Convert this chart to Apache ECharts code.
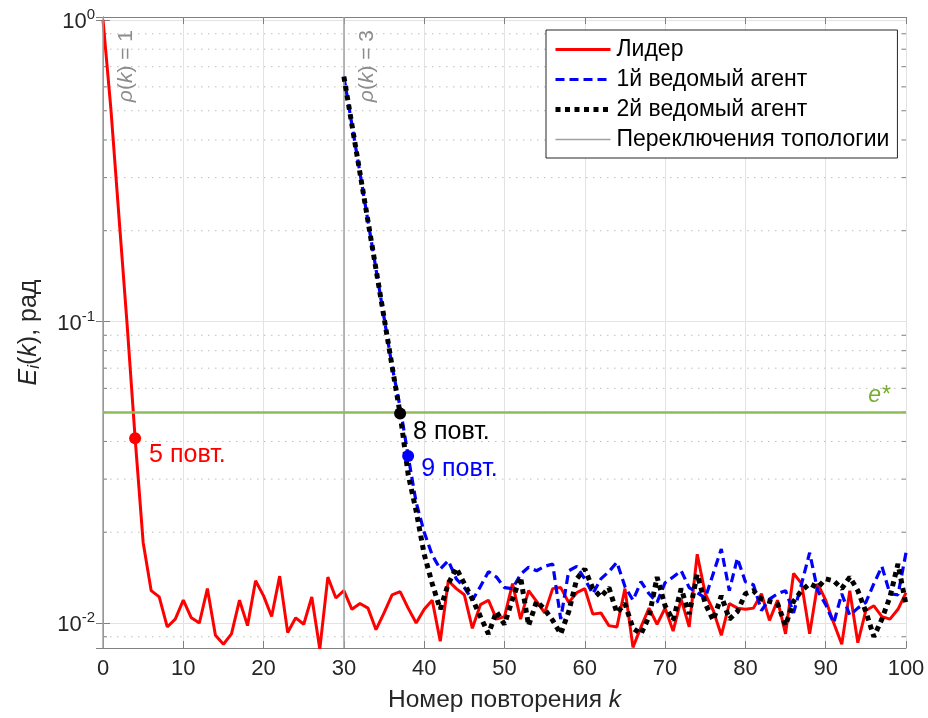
<!DOCTYPE html>
<html><head><meta charset="utf-8">
<script src="https://cdn.jsdelivr.net/npm/echarts@6/dist/echarts.min.js"></script>
<style>html,body{margin:0;padding:0;background:#fff}#c{width:928px;height:718px}</style>
</head><body><div id="c"></div>
<script>
// Leader error, k = 0..100
const leader = [1.0,0.50,0.22,0.098,0.041,0.0185,0.0128,0.0122,0.0097,0.0103,
0.0119,0.0104,0.0100,0.0130,0.0091,0.0085,0.0092,0.0119,0.0098,0.0138,
0.0123,0.0105,0.0143,0.0093,0.0104,0.0099,0.0122,0.0082,0.0142,0.0121,
0.0128,0.0111,0.0116,0.0112,0.0095,0.0108,0.0124,0.0127,0.0112,0.0100,
0.0111,0.0119,0.0087,0.0138,0.0130,0.0124,0.0096,0.0115,0.0119,0.0103,
0.0105,0.0135,0.0103,0.0128,0.0118,0.0108,0.0130,0.0131,0.0117,0.0126,
0.0130,0.0107,0.0108,0.0098,0.0097,0.0130,0.0083,0.0097,0.0112,0.0099,
0.0112,0.0094,0.0120,0.0097,0.0169,0.0125,0.0110,0.0091,0.0116,0.0112,
0.0111,0.0112,0.0125,0.0102,0.0119,0.0092,0.0146,0.0135,0.0092,0.0135,
0.0119,0.0100,0.0085,0.0128,0.0086,0.0110,0.0114,0.0105,0.0103,0.0111,
0.0126];
// Followers start at k = 30
const followerStart = 30;
const follower1 = [0.649,0.449,0.311,0.215,0.149,0.103,0.071,0.052,0.0358,0.0251,
0.0200,0.0168,0.0151,0.0161,0.0140,0.0131,0.0119,0.0132,0.0148,0.0142,
0.0131,0.0130,0.0145,0.0153,0.0149,0.0154,0.0157,0.0103,0.0149,0.0154,
0.0140,0.0125,0.0140,0.0148,0.0159,0.0132,0.0119,0.0137,0.0125,0.0117,
0.0136,0.0142,0.0149,0.0131,0.0126,0.0121,0.0146,0.0176,0.0128,0.0164,
0.0137,0.0134,0.0110,0.0120,0.0125,0.0128,0.0108,0.0135,0.0171,0.0128,
0.0115,0.0100,0.0125,0.0106,0.0112,0.0117,0.0135,0.0154,0.0125,0.0124,
0.0171];
const follower2 = [0.649,0.449,0.311,0.215,0.149,0.103,0.071,0.0495,0.0311,0.0235,
0.0169,0.0135,0.0111,0.0135,0.0152,0.0135,0.0120,0.0105,0.0092,0.0109,
0.0099,0.0120,0.0142,0.0098,0.0118,0.0111,0.0102,0.0092,0.0109,0.0140,
0.0151,0.0130,0.0122,0.0131,0.0108,0.0116,0.0096,0.0092,0.0105,0.0142,
0.0114,0.0102,0.0130,0.0107,0.0145,0.0116,0.0102,0.0123,0.0103,0.0109,
0.0125,0.0128,0.0120,0.0118,0.0116,0.0098,0.0118,0.0128,0.0135,0.0131,
0.0140,0.0138,0.0130,0.0142,0.0128,0.0109,0.0090,0.0103,0.0122,0.0157,
0.0115];
const switchK = [0, 30];
const switchLabels = ['1', '3'];
const eStar = 0.05;
const hitK = [4, 37, 38];
const hitLabels = ['5 повт.', '8 повт.', '9 повт.'];
const hitColors = ['#ff0000', '#000000', '#0000ff'];
const minorGrid = [0.009,0.02,0.03,0.04,0.05,0.06,0.07,0.08,0.09,0.2,0.3,0.4,0.5,0.6,0.7,0.8,0.9];
const yMin = 0.00826, yMax = 1.023;

const FF = 'Liberation Sans, Arial, sans-serif';
const hitValues = [leader[hitK[0]], follower2[hitK[1]-followerStart], follower1[hitK[2]-followerStart]];
const pairs = (arr, start) => arr.map((v, i) => [start + i, v]);

const chart = echarts.init(document.getElementById('c'), null, {renderer: 'canvas'});
const supFmt = v => {
  const e = Math.log10(v);
  if (Math.abs(e - Math.round(e)) > 1e-6) return '';
  return '{b|10}{s|' + Math.round(e) + '}';
};
const tickRich = {b: {fontSize: 22, fontFamily: FF, color: '#262626', padding: [4, 0, 0, 0]}, s: {fontSize: 15, fontFamily: FF, color: '#262626', padding: [0, 0, 10, 0]}};

chart.setOption({
  animation: false,
  grid: {left: 103, right: 22, top: 17, bottom: 69},
  legend: {
    data: ['Лидер', '1й ведомый агент', '2й ведомый агент', 'Переключения топологии'],
    orient: 'vertical', left: 546, top: 30, itemWidth: 55, itemHeight: 14, itemGap: 7,
    padding: [8, 8, 7, 7], borderColor: '#262626', borderWidth: 1, backgroundColor: '#fff',
    itemStyle: {opacity: 0},
    lineStyle: {width: 'inherit'},
    textStyle: {fontFamily: FF, fontSize: 23, color: '#000', lineHeight: 21, padding: [0, 0, 0, 1]},
    selectedMode: false
  },
  xAxis: [{
    type: 'value', min: 0, max: 100, interval: 10, position: 'bottom',
    name: '{n|Номер повторения }{i|k}', nameLocation: 'middle', nameGap: 40,
    nameTextStyle: {rich: {n: {fontSize: 24.5, fontFamily: FF, color: '#262626'}, i: {fontSize: 24.5, fontFamily: FF, fontStyle: 'italic', color: '#262626'}}},
    axisLine: {show: true, lineStyle: {color: '#808080', width: 1}},
    axisTick: {inside: true, length: 7, lineStyle: {color: '#808080'}},
    axisLabel: {fontSize: 22, fontFamily: FF, color: '#262626', margin: 10},
    splitLine: {show: true, lineStyle: {color: '#e3e3e3', width: 1}}
  }, {
    type: 'value', min: 0, max: 100, interval: 10, position: 'top',
    axisLine: {show: true, onZero: false, lineStyle: {color: '#808080', width: 1}},
    axisTick: {inside: true, length: 7, lineStyle: {color: '#808080'}},
    axisLabel: {show: false}, splitLine: {show: false}
  }],
  yAxis: [{
    type: 'log', logBase: 10, min: yMin, max: yMax, position: 'left',
    name: '{i|E}{sub|i}{n|(}{i|k}{n|), рад}', nameLocation: 'middle', nameGap: 60,
    nameTextStyle: {rich: {
      n: {fontSize: 25, fontFamily: FF, color: '#262626'},
      i: {fontSize: 25, fontFamily: FF, fontStyle: 'italic', color: '#262626'},
      sub: {fontSize: 17, fontFamily: FF, fontStyle: 'italic', color: '#262626', padding: [11, 0, 0, 0]}
    }},
    axisLine: {show: true, lineStyle: {color: '#808080', width: 1}},
    axisTick: {inside: true, length: 7, lineStyle: {color: '#808080'}},
    axisLabel: {formatter: supFmt, rich: tickRich, margin: 8, showMinLabel: true, showMaxLabel: true},
    splitLine: {show: true, lineStyle: {color: '#e3e3e3', width: 1}}
  }, {
    type: 'log', logBase: 10, min: yMin, max: yMax, position: 'right',
    axisLine: {show: true, lineStyle: {color: '#808080', width: 1}},
    axisTick: {inside: true, length: 7, lineStyle: {color: '#808080'}},
    axisLabel: {show: false}, splitLine: {show: false}
  }],
  series: [
    {
      type: 'custom', silent: true, z: 1, data: minorGrid.map(v => [0, v]),
      renderItem: (params, api) => {
        const cs = params.coordSys;
        const y = api.coord([0, api.value(1)])[1];
        return {type: 'group', children: [
          {type: 'line', shape: {x1: cs.x, y1: y, x2: cs.x + cs.width, y2: y}, style: {stroke: '#bdbdbd', lineWidth: 1, lineDash: [1.5, 5.5]}},
          {type: 'line', shape: {x1: cs.x, y1: y, x2: cs.x + 4, y2: y}, style: {stroke: '#808080', lineWidth: 1}},
          {type: 'line', shape: {x1: cs.x + cs.width - 4, y1: y, x2: cs.x + cs.width, y2: y}, style: {stroke: '#808080', lineWidth: 1}}
        ]};
      }
    },
    {
      name: 'Переключения топологии', type: 'line', data: [], z: 2,
      lineStyle: {color: '#a0a0a0', width: 1.5}, itemStyle: {color: '#a0a0a0'}, symbol: 'none',
      markLine: {
        silent: true, symbol: ['none', 'none'],
        lineStyle: {color: '#a0a0a0', width: 1.5, type: 'solid'},
        data: switchK.map((k, i) => ({
          xAxis: k,
          label: {
            show: true, position: 'insideEndBottom', distance: 13,
            formatter: '{i|ρ}{n|(}{i|k}{n|) = ' + switchLabels[i] + '}',
            rich: {
              i: {fontSize: 21, fontFamily: FF, fontStyle: 'italic', color: '#8c8c8c'},
              n: {fontSize: 21, fontFamily: FF, color: '#8c8c8c'}
            }
          }
        }))
      }
    },
    {
      name: 'estar', type: 'line', data: [], z: 2, symbol: 'none',
      markLine: {
        silent: true, symbol: ['none', 'none'],
        lineStyle: {color: '#8cbd5a', width: 2.5, type: 'solid'},
        data: [{
          yAxis: eStar,
          label: {show: true, position: 'insideEndTop', distance: [16, 5], formatter: '{i|e}{n|*}',
            rich: {i: {fontSize: 23, fontFamily: FF, fontStyle: 'italic', color: '#77ac30'},
                   n: {fontSize: 23, fontFamily: FF, fontStyle: 'italic', color: '#77ac30'}}}
        }]
      }
    },
    {
      name: 'Лидер', type: 'line', data: pairs(leader, 0), z: 3, symbol: 'none',
      lineStyle: {color: '#ff0000', width: 3}, itemStyle: {color: '#ff0000'}
    },
    {
      name: '1й ведомый агент', type: 'line', data: pairs(follower1, followerStart), z: 4, symbol: 'none',
      lineStyle: {color: '#0000ff', width: 3.2, type: [9, 5]}, itemStyle: {color: '#0000ff'}
    },
    {
      name: '2й ведомый агент', type: 'line', data: pairs(follower2, followerStart), z: 5, symbol: 'none',
      lineStyle: {color: '#000000', width: 5, type: [5, 4.5]}, itemStyle: {color: '#000000'}
    },
    {
      name: 'hits', type: 'scatter', z: 6, symbolSize: 12,
      data: hitK.map((k, i) => ({
        value: [k, hitValues[i]],
        itemStyle: {color: hitColors[i], opacity: 1},
        label: {show: true, position: 'right', formatter: hitLabels[i], color: hitColors[i],
          fontSize: 25, fontFamily: FF, offset: [[3, 17], [2, 19], [2, 13]][i]}
      }))
    }
  ]
});
</script></body></html>
